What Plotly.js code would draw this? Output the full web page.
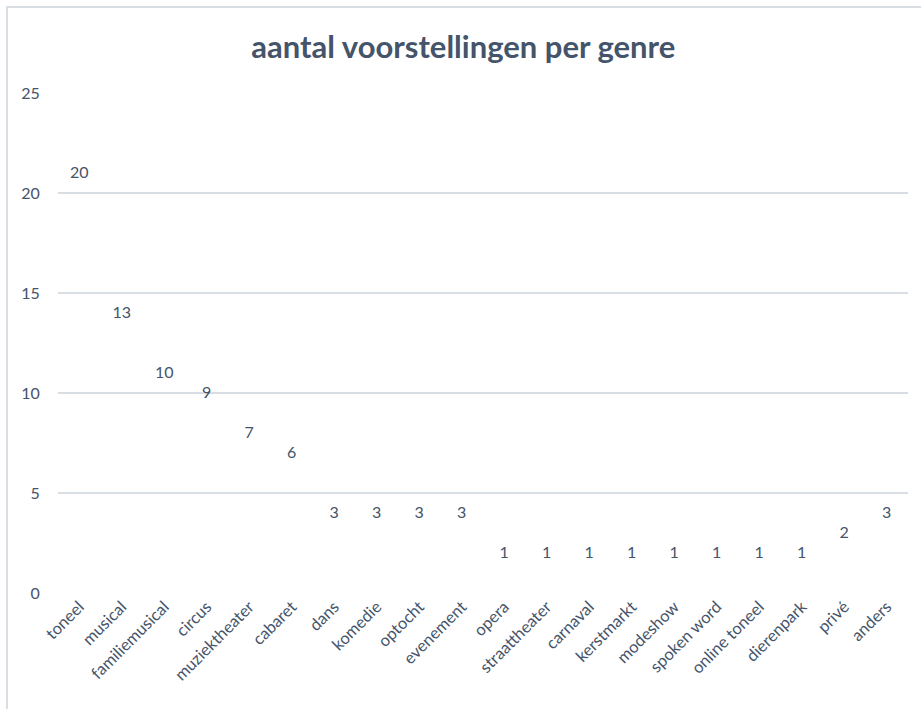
<!DOCTYPE html>
<html>
<head>
<meta charset="utf-8">
<script src="https://cdn.plot.ly/plotly-3.0.1.min.js"></script>
<style>
html,body{margin:0;padding:0;overflow:hidden;background:#fff;}
#chart{position:absolute;left:0;top:0;width:921px;height:709px;}
#frame{position:absolute;left:6px;top:6px;width:1000px;height:1000px;border-left:2px solid #D9DEE4;border-top:2px solid #D9DEE4;pointer-events:none;}
</style>
</head>
<body>
<div id="chart"></div>
<div id="frame"></div>
<script>
var genres = ["toneel","musical","familiemusical","circus","muziektheater","cabaret","dans","komedie","optocht","evenement","opera","straattheater","carnaval","kerstmarkt","modeshow","spoken word","online toneel","dierenpark","privé","anders"];
var counts = [20,13,10,9,7,6,3,3,3,3,1,1,1,1,1,1,1,1,2,3];
var yTicks = [0,5,10,15,20,25];

var font = "Lato, 'Open Sans', sans-serif";
var txtColor = "#44546A";

var trace = {
  type: "scatter",
  mode: "markers+text",
  x: genres,
  y: counts,
  text: counts.map(String),
  textposition: "top center",
  textfont: {family: font, size: 16, color: txtColor},
  marker: {size: 16, opacity: 0, color: "#4472C4"},
  hoverinfo: "x+y",
  cliponaxis: false,
  showlegend: false
};

var layout = {
  width: 921, height: 709,
  margin: {l: 58, r: 13, t: 93, b: 116},
  paper_bgcolor: "#ffffff",
  plot_bgcolor: "#ffffff",
  title: {text: "aantal voorstellingen per genre", x: 0.503, xanchor: "center", y: 0.934, yanchor: "middle",
          font: {family: font, size: 31, color: txtColor, weight: 700}},
  xaxis: {
    type: "category",
    range: [-0.5, genres.length - 0.5],
    tickangle: -45,
    tickfont: {family: font, size: 16.5, color: txtColor},
    showgrid: false, zeroline: false, showline: false,
    ticks: "", ticklen: 0
  },
  yaxis: {
    range: [0, 25],
    tickvals: yTicks,
    ticktext: yTicks.map(String),
    tickfont: {family: font, size: 16, color: txtColor},
    gridcolor: "#D9DEE4", gridwidth: 2,
    zeroline: false, showline: false,
    ticks: "outside", ticklen: 14, tickcolor: "rgba(0,0,0,0)"
  }
};

Plotly.newPlot("chart", [trace], layout, {displayModeBar: false, staticPlot: true});
</script>
</body>
</html>
